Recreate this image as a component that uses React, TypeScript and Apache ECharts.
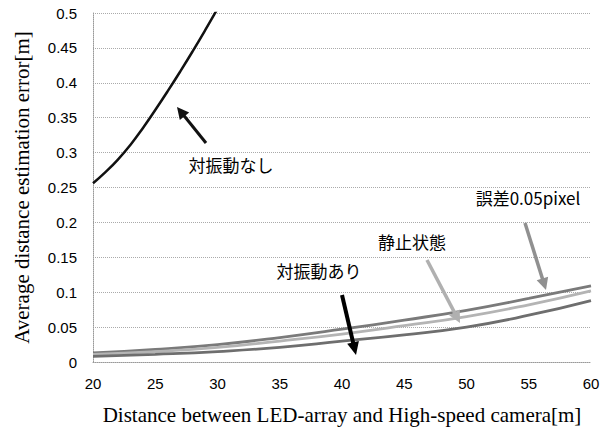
import React, { useEffect, useRef } from "react";
import * as echarts from "echarts";

const distances = [20, 25, 30, 35, 40, 45, 50, 55, 60];
const noVibX = [20, 21, 22, 23, 24, 25, 26, 27, 28, 29, 30, 31];
const noVibValues = [0.256, 0.272, 0.29, 0.311, 0.335, 0.361, 0.388, 0.416, 0.445, 0.475, 0.506, 0.537];
const pixelErrValues = [0.013, 0.018, 0.025, 0.035, 0.047, 0.06, 0.074, 0.091, 0.109];
const staticValues = [0.011, 0.015, 0.021, 0.03, 0.04, 0.052, 0.065, 0.082, 0.102];
const vibValues = [0.008, 0.011, 0.015, 0.021, 0.03, 0.039, 0.05, 0.067, 0.088];
const labelNoVib = "対振動なし";
const labelPixel = "誤差0.05pixel";
const labelStatic = "静止状態";
const labelVib = "対振動あり";

function arrow(x1: number, y1: number, x2: number, y2: number, color: string, width: number, headLen: number, headW: number) {
  const dx = x2 - x1;
  const dy = y2 - y1;
  const len = Math.sqrt(dx * dx + dy * dy);
  const ux = dx / len;
  const uy = dy / len;
  const bx = x2 - ux * headLen;
  const by = y2 - uy * headLen;
  const px = -uy;
  const py = ux;
  return [
    {
      type: "line",
      shape: { x1, y1, x2: bx + ux * 2, y2: by + uy * 2 },
      style: { stroke: color, lineWidth: width },
      z: 10,
    },
    {
      type: "polygon",
      shape: {
        points: [
          [x2, y2],
          [bx + px * headW, by + py * headW],
          [bx - px * headW, by - py * headW],
        ],
      },
      style: { fill: color },
      z: 10,
    },
  ];
}

export default function App() {
  const ref = useRef<HTMLDivElement>(null);
  useEffect(() => {
    document.body.style.margin = "0";
    if (!ref.current) return;
    const chart = echarts.init(ref.current, null, { renderer: "svg" });
    const textStyle = (x: number, y: number, text: string) => ({
      type: "text",
      x,
      y,
      style: {
        text,
        fill: "#000",
        font: '17px "Noto Sans CJK JP"',
        textAlign: "center",
        textVerticalAlign: "middle",
      },
      z: 10,
    });
    chart.setOption({
      animation: false,
      backgroundColor: "#fff",
      grid: { left: 93, right: 18, top: 13, bottom: 64, containLabel: false },
      xAxis: {
        type: "value",
        min: 20,
        max: 60,
        interval: 5,
        name: "Distance between LED-array and High-speed camera[m]",
        nameLocation: "middle",
        nameGap: 42,
        nameTextStyle: { fontFamily: "Liberation Serif", fontSize: 21, color: "#000" },
        axisLine: { show: true, lineStyle: { color: "#999", type: "dotted", width: 1 } },
        axisTick: { show: false },
        splitLine: { show: false },
        axisLabel: { color: "#000", fontFamily: "Liberation Sans", fontSize: 15, margin: 14 },
      },
      yAxis: {
        type: "value",
        min: 0,
        max: 0.5,
        interval: 0.05,
        name: "Average distance estimation error[m]",
        nameLocation: "middle",
        nameGap: 61,
        nameTextStyle: { fontFamily: "Liberation Serif", fontSize: 21, color: "#000" },
        axisLine: { show: true, lineStyle: { color: "#999", type: "dotted", width: 1 } },
        axisTick: { show: false },
        splitLine: { show: true, lineStyle: { color: "#aaa", type: "dotted", width: 1 } },
        axisLabel: { color: "#000", fontFamily: "Liberation Sans", fontSize: 15, margin: 16 },
      },
      series: [
        {
          type: "line",
          data: noVibX.map((x, i) => [x, noVibValues[i]]),
          smooth: true,
          symbol: "none",
          clip: true,
          lineStyle: { color: "#111", width: 2.5 },
        },
        {
          type: "line",
          data: distances.map((x, i) => [x, pixelErrValues[i]]),
          smooth: true,
          symbol: "none",
          lineStyle: { color: "#7a7a7a", width: 2.8 },
        },
        {
          type: "line",
          data: distances.map((x, i) => [x, staticValues[i]]),
          smooth: true,
          symbol: "none",
          lineStyle: { color: "#b4b4b4", width: 2.8 },
        },
        {
          type: "line",
          data: distances.map((x, i) => [x, vibValues[i]]),
          smooth: true,
          symbol: "none",
          lineStyle: { color: "#6e6e6e", width: 2.8 },
        },
      ],
      graphic: [
        ...arrow(206, 143, 177, 107, "#111", 3, 12, 6),
        textStyle(231, 164, labelNoVib),
        ...arrow(525, 223, 546, 290, "#909090", 3.5, 12, 6),
        textStyle(528, 197, labelPixel),
        ...arrow(427, 260, 460, 323, "#b0b0b0", 3.5, 12, 6),
        textStyle(412, 241, labelStatic),
        ...arrow(342, 295, 356, 355, "#000", 4, 13, 6),
        textStyle(319, 270, labelVib),
      ],
    });
    return () => chart.dispose();
  }, []);
  return <div ref={ref} style={{ width: 609, height: 430 }} />;
}
